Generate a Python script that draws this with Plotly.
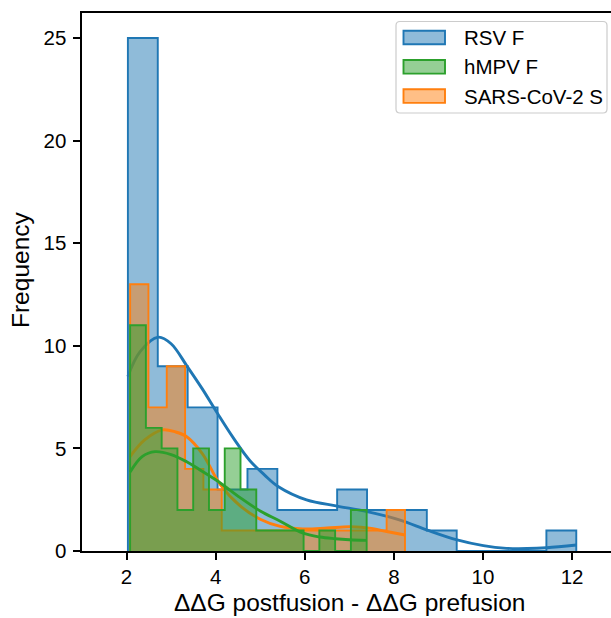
import plotly.graph_objects as go

# ---------------- data ----------------
series_names = ["RSV F", "hMPV F", "SARS-CoV-2 S"]

rsv_bin_start = 2.03
rsv_bin_width = 0.671
rsv_counts = [25, 9, 7, 3, 4, 2, 2, 3, 2, 2, 1, 0, 0, 0, 1]

hmpv_bin_start = 2.08
hmpv_bin_width = 0.354
hmpv_counts = [11, 6, 5, 2, 5, 2, 5, 3, 1, 1, 1, 0, 1, 0, 2]

sars_bin_start = 2.08
sars_bin_width = 0.4113
sars_counts = [13, 7, 9, 4, 3, 1, 1, 1, 1, 1, 1, 1, 1, 1, 2]

rsv_kde_x = [2.03, 2.3, 2.71, 3.0, 3.36, 3.7, 4.04, 4.4, 4.77, 5.1, 5.41, 6.04, 6.73, 7.4, 8.14, 8.75, 9.42, 10.01, 10.53, 11.0, 11.43, 12.1]
rsv_kde_y = [8.5, 9.7, 10.42, 10.1, 9.0, 7.9, 6.71, 5.5, 4.4, 3.7, 3.13, 2.49, 2.19, 1.92, 1.51, 1.02, 0.54, 0.26, 0.13, 0.12, 0.16, 0.29]

hmpv_kde_x = [2.08, 2.35, 2.64, 3.0, 3.35, 3.65, 4.05, 4.55, 5.0, 5.45, 5.95, 6.34, 6.68, 7.0, 7.39]
hmpv_kde_y = [3.85, 4.6, 4.84, 4.7, 4.35, 3.95, 3.4, 2.6, 1.95, 1.45, 0.88, 0.68, 0.6, 0.55, 0.52]

sars_kde_x = [2.08, 2.4, 2.81, 3.1, 3.35, 3.7, 4.1, 4.55, 5.0, 5.45, 5.95, 6.5, 7.02, 7.5, 7.84, 8.25]
sars_kde_y = [4.6, 5.4, 5.9, 5.8, 5.57, 4.75, 3.25, 2.2, 1.55, 1.2, 1.08, 1.12, 1.18, 1.1, 0.95, 0.78]

x_ticks = [2, 4, 6, 8, 10, 12]
y_ticks = [0, 5, 10, 15, 20, 25]

x_title = "ΔΔG postfusion - ΔΔG prefusion"
y_title = "Frequency"

# ---------------- styling ----------------
colors = {"RSV F": (31, 119, 180), "hMPV F": (44, 160, 44), "SARS-CoV-2 S": (255, 127, 14)}
FONT = "Liberation Sans, Arial, sans-serif"
W, H = 611, 618
L, R, T, B = 82, 0, 13, 67


def rgb(c, a=1.0):
    return f"rgba({c[0]},{c[1]},{c[2]},{a})"


def step_xy(start, width, counts):
    edges = [start + i * width for i in range(len(counts) + 1)]
    xs = [edges[0]] + edges[:-1] + [edges[-1], edges[-1]]
    ys = [0] + list(counts) + [counts[-1], 0]
    return xs, ys


fig = go.Figure()

# draw order: RSV, SARS, hMPV (green on top)
for name, start, width, counts, kx, ky in [
    ("RSV F", rsv_bin_start, rsv_bin_width, rsv_counts, rsv_kde_x, rsv_kde_y),
    ("SARS-CoV-2 S", sars_bin_start, sars_bin_width, sars_counts, sars_kde_x, sars_kde_y),
    ("hMPV F", hmpv_bin_start, hmpv_bin_width, hmpv_counts, hmpv_kde_x, hmpv_kde_y),
]:
    c = colors[name]
    xs, ys = step_xy(start, width, counts)
    fig.add_trace(go.Scatter(
        x=xs, y=ys, mode="lines", line=dict(shape="hv", color=rgb(c), width=1.9),
        fill="tozeroy", fillcolor=rgb(c, 0.5), name=name, showlegend=False, hoverinfo="skip"))
    fig.add_trace(go.Scatter(
        x=kx, y=ky, mode="lines", line=dict(shape="spline", smoothing=1.0, color=rgb(c), width=2.9),
        showlegend=False, hoverinfo="skip"))

plot_w = W - L - R
plot_h = H - T - B
x_range = [1, 1 + plot_w / 44.55]
y_range = [0, plot_h / 20.52]

fig.update_layout(
    width=W, height=H,
    margin=dict(l=L, r=R, t=T, b=B, pad=0),
    paper_bgcolor="white", plot_bgcolor="white",
    font=dict(family=FONT, color="black"),
    showlegend=False,
    xaxis=dict(range=x_range, tickvals=x_ticks, ticks="outside", ticklen=6.8, tickwidth=1.5,
               tickcolor="black", showline=True, linecolor="black", linewidth=1.5, mirror=True,
               showgrid=False, zeroline=False, tickfont=dict(size=20.5, family=FONT)),
    yaxis=dict(range=y_range, tickvals=y_ticks, ticks="outside", ticklen=6.8, tickwidth=1.5,
               tickcolor="black", showline=True, linecolor="black", linewidth=1.5, mirror=False,
               showgrid=False, zeroline=False, tickfont=dict(size=20.5, family=FONT),
               ticklabelstandoff=3),
)


def fx(p):
    return (p - L) / plot_w


def fy(p):
    return (H - B - p) / plot_h


# axis titles
fig.add_annotation(x=fx(349), y=fy(602), xref="paper", yref="paper", text=x_title, showarrow=False,
                   xanchor="center", yanchor="middle", font=dict(size=24.5, family=FONT, color="black"))
fig.add_annotation(x=fx(20), y=fy(270), xref="paper", yref="paper", text=y_title, showarrow=False,
                   textangle=-90, xanchor="center", yanchor="middle",
                   font=dict(size=24.5, family=FONT, color="black"))

# ---------------- manual legend (matplotlib style) ----------------
lx0, lx1, ly0, ly1, rad = 396, 607, 21.5, 113, 4
path = (f"M {fx(lx0 + rad)},{fy(ly0)} L {fx(lx1 - rad)},{fy(ly0)} "
        f"Q {fx(lx1)},{fy(ly0)} {fx(lx1)},{fy(ly0 + rad)} L {fx(lx1)},{fy(ly1 - rad)} "
        f"Q {fx(lx1)},{fy(ly1)} {fx(lx1 - rad)},{fy(ly1)} L {fx(lx0 + rad)},{fy(ly1)} "
        f"Q {fx(lx0)},{fy(ly1)} {fx(lx0)},{fy(ly1 - rad)} L {fx(lx0)},{fy(ly0 + rad)} "
        f"Q {fx(lx0)},{fy(ly0)} {fx(lx0 + rad)},{fy(ly0)} Z")
fig.add_shape(type="path", path=path, xref="paper", yref="paper",
              line=dict(color="rgb(204,204,204)", width=1.2), fillcolor="rgba(255,255,255,0.8)", layer="above")

row_y = [37.5, 66.8, 96.1]
for name, ry in zip(series_names, row_y):
    c = colors[name]
    fig.add_shape(type="rect", xref="paper", yref="paper",
                  x0=fx(403.5), x1=fx(445), y0=fy(ry - 6.8), y1=fy(ry + 6.8),
                  line=dict(color=rgb(c), width=1.9), fillcolor=rgb(c, 0.5), layer="above")
    fig.add_annotation(x=fx(462), y=fy(ry), xref="paper", yref="paper", text=name,
                       showarrow=False, xanchor="left", yanchor="middle",
                       font=dict(size=20.5, family=FONT, color="black"))

fig.write_html("out.html")
